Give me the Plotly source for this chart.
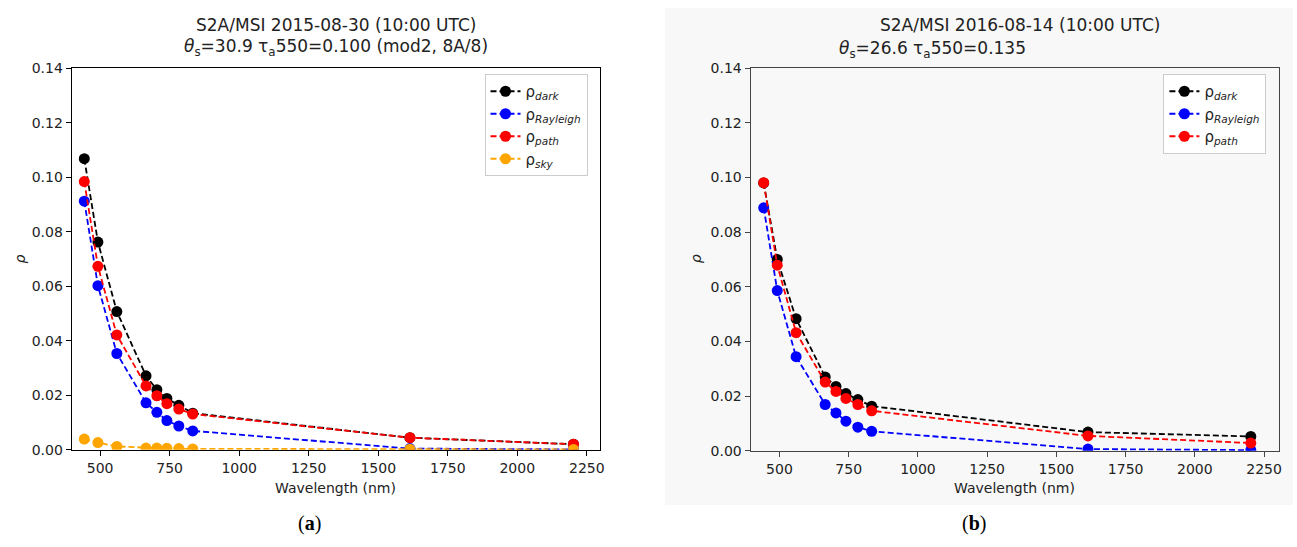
import plotly.graph_objects as go

# Wavelengths (nm) of Sentinel-2A/MSI bands used
wl = [443, 492, 560, 665, 704, 740, 783, 833, 1614, 2202]

# Panel (a) 2015-08-30
a_dark = [0.1068, 0.0762, 0.0507, 0.0271, 0.0220, 0.0188, 0.0163, 0.0134, 0.0044, 0.0020]
a_rayleigh = [0.0912, 0.0602, 0.0353, 0.0172, 0.0137, 0.0107, 0.0087, 0.0069, 0.0004, 0.0001]
a_path = [0.0984, 0.0673, 0.0421, 0.0234, 0.0198, 0.0169, 0.0149, 0.0131, 0.0044, 0.0020]
a_sky = [0.0039, 0.0026, 0.0012, 0.0006, 0.0006, 0.0005, 0.0004, 0.0003, 0.0002, 0.0001]

# Panel (b) 2016-08-14
b_dark = [0.0980, 0.0700, 0.0483, 0.0270, 0.0235, 0.0209, 0.0187, 0.0163, 0.0068, 0.0052]
b_rayleigh = [0.0889, 0.0586, 0.0344, 0.0169, 0.0138, 0.0108, 0.0086, 0.0071, 0.0006, 0.0002]
b_path = [0.0981, 0.0679, 0.0432, 0.0251, 0.0217, 0.0191, 0.0169, 0.0146, 0.0054, 0.0028]

y_ticks = [0.00, 0.02, 0.04, 0.06, 0.08, 0.10, 0.12, 0.14]
x_ticks = [500, 750, 1000, 1250, 1500, 1750, 2000, 2250]

W, H = 1297, 547
FONT = "DejaVu Sans"

def px(x):
    return x / W

def py(y):
    return 1 - y / H

fig = go.Figure()

series_a = [
    ("ρ<sub><i>dark</i></sub>", a_dark, "#000000"),
    ("ρ<sub><i>Rayleigh</i></sub>", a_rayleigh, "#0000ff"),
    ("ρ<sub><i>path</i></sub>", a_path, "#ff0000"),
    ("ρ<sub><i>sky</i></sub>", a_sky, "#ffa500"),
]
series_b = [
    ("ρ<sub><i>dark</i></sub>", b_dark, "#000000"),
    ("ρ<sub><i>Rayleigh</i></sub>", b_rayleigh, "#0000ff"),
    ("ρ<sub><i>path</i></sub>", b_path, "#ff0000"),
]

for name, vals, col in series_a:
    fig.add_trace(go.Scatter(
        x=wl, y=vals, name=name, mode="lines+markers",
        line=dict(color=col, width=1.8, dash="6px,3px"),
        marker=dict(color=col, size=11),
        xaxis="x", yaxis="y", legend="legend",
    ))
for name, vals, col in series_b:
    fig.add_trace(go.Scatter(
        x=wl, y=vals, name=name, mode="lines+markers",
        line=dict(color=col, width=1.8, dash="6px,3px"),
        marker=dict(color=col, size=11),
        xaxis="x2", yaxis="y2", legend="legend2",
    ))

axis_common = dict(
    showgrid=False, zeroline=False, showline=True, mirror=True,
    ticks="outside", ticklen=5, tickwidth=1,
    tickfont=dict(family=FONT, size=14, color="#222222"),
)

fig.update_layout(
    width=W, height=H,
    margin=dict(l=0, r=0, t=0, b=0),
    paper_bgcolor="white",
    plot_bgcolor="rgba(0,0,0,0)",
    font=dict(family=FONT, color="#222222"),
    xaxis=dict(domain=[px(72), px(602)], range=[398, 2298], tickvals=x_ticks,
               anchor="y", linecolor="#000000", linewidth=1.3, tickcolor="#000000", **axis_common),
    yaxis=dict(domain=[py(455), py(62)], range=[0, 0.14], tickvals=y_ticks, tickformat=".2f",
               anchor="x", linecolor="#000000", linewidth=1.3, tickcolor="#000000", **axis_common),
    xaxis2=dict(domain=[px(753), px(1283)], range=[396, 2304], tickvals=x_ticks,
                anchor="y2", linecolor="#444444", linewidth=1.3, tickcolor="#444444", **axis_common),
    yaxis2=dict(domain=[py(456), py(62)], range=[0, 0.14], tickvals=y_ticks, tickformat=".2f",
                anchor="x2", linecolor="#444444", linewidth=1.3, tickcolor="#444444", **axis_common),
    legend=dict(x=px(486), y=py(68), xanchor="left", yanchor="top",
                bgcolor="rgba(255,255,255,0.9)", bordercolor="#cccccc", borderwidth=1,
                font=dict(family=FONT, size=15, color="#222222"), itemwidth=30),
    legend2=dict(x=px(1167), y=py(68), xanchor="left", yanchor="top",
                 bgcolor="rgba(255,255,255,0.9)", bordercolor="#cccccc", borderwidth=1,
                 font=dict(family=FONT, size=15, color="#222222"), itemwidth=30),
    showlegend=True,
)

# Light background of panel (b) image
fig.add_shape(type="rect", xref="paper", yref="paper",
              x0=px(667), x1=1, y0=py(512), y1=1,
              fillcolor="#f8f8f8", line=dict(width=0), layer="below")
# White plot area for panel (a)
fig.add_shape(type="rect", xref="paper", yref="paper",
              x0=px(72), x1=px(602), y0=py(455), y1=py(62),
              fillcolor="#ffffff", line=dict(width=0), layer="below")

ann = []
def text(x, y, t, size=14, **kw):
    ann.append(dict(x=px(x), y=py(y), xref="paper", yref="paper", text=t, showarrow=False,
                    font=dict(family=kw.pop("family", FONT), size=size, color=kw.pop("color", "#222222")),
                    xanchor=kw.pop("xanchor", "center"), yanchor="middle", **kw))

text(337, 18, "S2A/MSI 2015-08-30 (10:00 UTC)", size=17)
text(337, 41, "<i>θ</i><sub>s</sub>=30.9 τ<sub>a</sub>550=0.100 (mod2, 8A/8)", size=17)
text(1023, 18, "S2A/MSI 2016-08-14 (10:00 UTC)", size=17)
text(840, 43, "<i>θ</i><sub>s</sub>=26.6 τ<sub>a</sub>550=0.135", size=17, xanchor="left")
text(337, 494, "Wavelength (nm)", size=14)
text(1018, 494, "Wavelength (nm)", size=14)
text(21, 258, "<i>ρ</i>", size=14, textangle=-90)
text(699, 258, "<i>ρ</i>", size=14, textangle=-90)
text(310, 531, "(<b>a</b>)", size=20, family="Liberation Serif", color="#000000")
text(977, 531, "(<b>b</b>)", size=20, family="Liberation Serif", color="#000000")

fig.update_layout(annotations=ann)

fig.write_html("out.html", config={"displayModeBar": False})

# remove the default page margin so the figure sits at the window's top-left corner
with open("out.html", "r", encoding="utf-8") as f:
    html = f.read()
html = html.replace("<body>", '<body style="margin:0;padding:0;overflow:hidden">', 1)
with open("out.html", "w", encoding="utf-8") as f:
    f.write(html)
